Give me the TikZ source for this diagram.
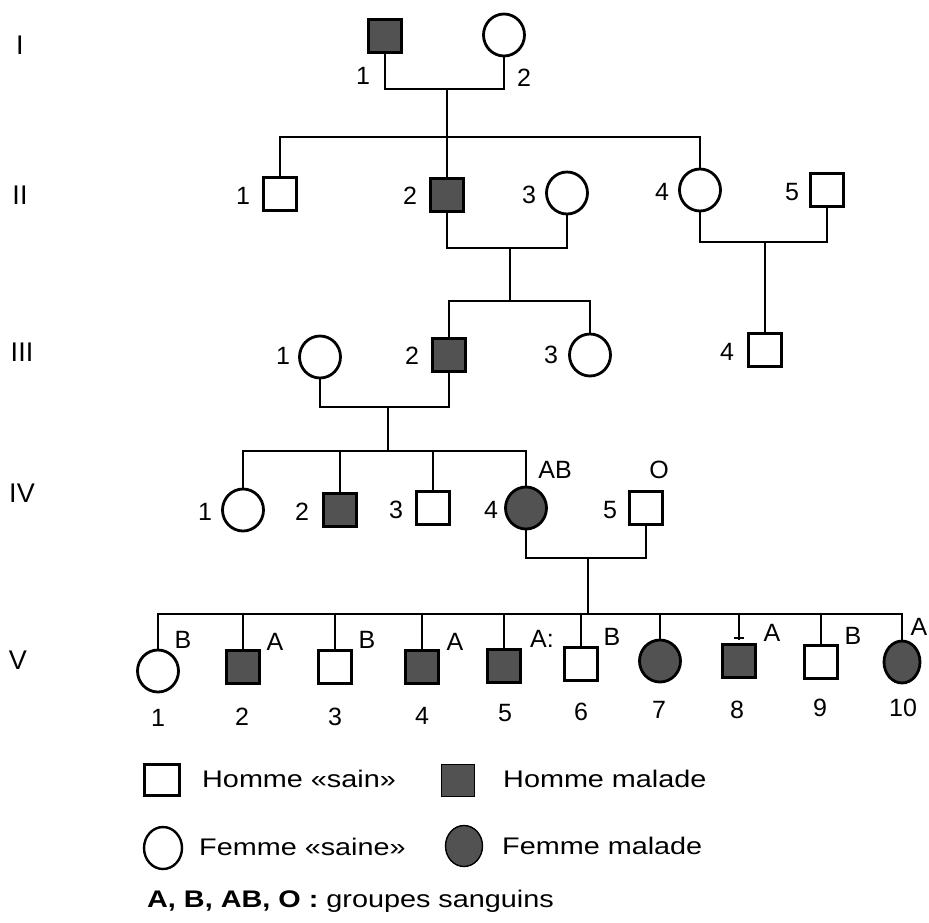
\documentclass[tikz,border=0pt]{standalone}
\usepackage{fontspec}
\setmainfont{Liberation Sans}
\usetikzlibrary{shapes.geometric,calc}
\tikzset{
  ln/.style={line width=2.8pt, line cap=rect},
  male/.style={draw, line width=2.8pt, rectangle, minimum width=33pt, minimum height=33pt, inner sep=0pt, fill=white},
  female/.style={draw, line width=2.8pt, ellipse, minimum width=41pt, minimum height=42pt, inner sep=0pt, fill=white},
  ill/.style={fill=black!68},
  lab/.style={font=\fontsize{25}{27}\selectfont, inner sep=0pt},
  grp/.style={font=\fontsize{25}{27}\selectfont, inner sep=0pt},
  gen/.style={font=\fontsize{27}{29}\selectfont, inner sep=0pt},
  leg/.style={font=\fontsize{24}{26}\selectfont, inner sep=0pt, anchor=west}
}
\newcommand{\wide}[1]{\scalebox{1.2}[1]{#1}}
\begin{document}
\begin{tikzpicture}[x=1pt, y=-1pt]
\useasboundingbox (0,0) rectangle (929,922);
\fill[white] (0,0) rectangle (929,922);

% generation labels
\node[gen] (gI) at (20,45) {I};
\node[gen] (gII) at (20,195) {II};
\node[gen] (gIII) at (22,352) {III};
\node[gen] (gIV) at (22,493) {IV};
\node[gen] (gV) at (18,660) {V};

% ---------- generation I
\node[male,ill] (I1) at (385,36) {};
\node[female] (I2) at (504,35) {};
\node[lab] (lI1) at (363,76) {1};
\node[lab] (lI2) at (524,78) {2};
\coordinate (mI) at (447,89);
\coordinate (sII) at (447,137);
\draw[ln] (I1.south) |- (mI) -| (I2.south);
\draw[ln] (mI) -- (sII);

% ---------- generation II
\node[male] (II1) at (280,194) {};
\node[male,ill] (II2) at (447,195) {};
\node[female] (II3) at (567,193) {};
\node[female] (II4) at (700,190) {};
\node[male] (II5) at (827,190) {};
\node[lab] (lII1) at (243,196) {1};
\node[lab] (lII2) at (410,196) {2};
\node[lab] (lII3) at (529,195) {3};
\node[lab] (lII4) at (662,192) {4};
\node[lab] (lII5) at (792,192) {5};
\draw[ln] (II1.north) |- (sII) -| (II4.north);
\draw[ln] (sII) -- (II2.north);
\coordinate (mII23) at (510,248);
\coordinate (sIII) at (510,301);
\draw[ln] (II2.south) |- (mII23) -| (II3.south);
\draw[ln] (mII23) -- (sIII);
\coordinate (mII45) at (765,242);
\draw[ln] (II4.south) |- (mII45) -| (II5.south);

% ---------- generation III
\node[female] (III1) at (320,357) {};
\node[male,ill] (III2) at (449,355) {};
\node[female] (III3) at (590,355) {};
\node[male] (III4) at (765,350) {};
\node[lab] (lIII1) at (283,356) {1};
\node[lab] (lIII2) at (412,356) {2};
\node[lab] (lIII3) at (551,355) {3};
\node[lab] (lIII4) at (727,352) {4};
\draw[ln] (III2.north) |- (sIII) -| (III3.north);
\draw[ln] (mII45) -- (III4.north);
\coordinate (mIII12) at (388,407);
\coordinate (sIV) at (388,451);
\draw[ln] (III1.south) |- (mIII12) -| (III2.south);
\draw[ln] (mIII12) -- (sIV);

% ---------- generation IV
\node[female] (IV1) at (243,510) {};
\node[male,ill] (IV2) at (340,510) {};
\node[male] (IV3) at (433,508) {};
\node[female,ill] (IV4) at (526,508) {};
\node[male] (IV5) at (646,508) {};
\node[lab] (lIV1) at (205,512) {1};
\node[lab] (lIV2) at (302,512) {2};
\node[lab] (lIV3) at (396,510) {3};
\node[lab] (lIV4) at (491,510) {4};
\node[lab] (lIV5) at (610,510) {5};
\node[grp] (gAB) at (555,470) {AB};
\node[grp] (gO) at (659,470) {O};
\draw[ln] (IV1.north) |- (sIV) -| (IV4.north);
\draw[ln] (IV2.north) -- (IV2.north |- sIV);
\draw[ln] (IV3.north) -- (IV3.north |- sIV);
\coordinate (mIV45) at (588,558);
\coordinate (sV) at (588,614);
\draw[ln] (IV4.south) |- (mIV45) -| (IV5.south);
\draw[ln] (mIV45) -- (sV);

% ---------- generation V
\node[female] (V1) at (158,671) {};
\node[male,ill] (V2) at (243,667) {};
\node[male] (V3) at (335,667) {};
\node[male,ill] (V4) at (422,667) {};
\node[male,ill] (V5) at (504,666) {};
\node[male] (V6) at (581,664) {};
\node[female,ill] (V7) at (660,661) {};
\node[male,ill] (V8) at (739,661) {};
\node[male] (V9) at (821,662) {};
\node[female,ill,minimum width=36pt] (V10) at (902,662) {};
\draw[ln] (V1.north) |- (sV) -| (V10.north);
\foreach \n in {V2,V3,V4,V5,V6,V7,V9}{
  \draw[ln] (\n.north) -- (\n.north |- sV);
}
\coordinate (v8top) at ($(V8.north)+(0,-5)$);
\draw[ln] (v8top) -- (v8top |- sV);
\draw[line width=1.8pt] ($(v8top)+(-5,0)$) -- ($(v8top)+(5,0)$);
\node[grp] (bV1) at (183,640) {B};
\node[grp] (bV2) at (275,642) {A};
\node[grp] (bV3) at (367,640) {B};
\node[grp] (bV4) at (455,642) {A};
\node[grp] (bV5) at (542,639) {A:};
\node[grp] (bV6) at (612,637) {B};
\node[grp] (bV8) at (772,633) {A};
\node[grp] (bV9) at (853,636) {B};
\node[grp] (bV10) at (919,627) {A};
\node[lab] (nV1) at (158,718) {1};
\node[lab] (nV2) at (242,717) {2};
\node[lab] (nV3) at (335,717) {3};
\node[lab] (nV4) at (422,716) {4};
\node[lab] (nV5) at (505,713) {5};
\node[lab] (nV6) at (581,712) {6};
\node[lab] (nV7) at (659,710) {7};
\node[lab] (nV8) at (737,710) {8};
\node[lab] (nV9) at (820,708) {9};
\node[lab] (nV10) at (903,708) {10};

% ---------- legend
\node[male, minimum width=35pt, minimum height=31pt, line width=2.4pt] (L1) at (162,780) {};
\node[leg] (L1t) at (202,779) {\wide{Homme «sain»}};
\node[male, ill, minimum width=33pt, minimum height=32pt, line width=1pt] (L2) at (458,780) {};
\node[leg] (L2t) at (503,779) {\wide{Homme malade}};
\node[female, minimum width=38pt, minimum height=42pt, line width=2.4pt] (L3) at (163,848) {};
\node[leg] (L3t) at (199,847) {\wide{Femme «saine»}};
\node[female, ill, minimum width=37pt, minimum height=41pt, line width=1.4pt] (L4) at (464,846) {};
\node[leg] (L4t) at (502,846) {\wide{Femme malade}};
\node[leg] (L5t) at (147,901) {\wide{\textbf{A, B, AB, O :} groupes sanguins}};
\end{tikzpicture}
\end{document}
